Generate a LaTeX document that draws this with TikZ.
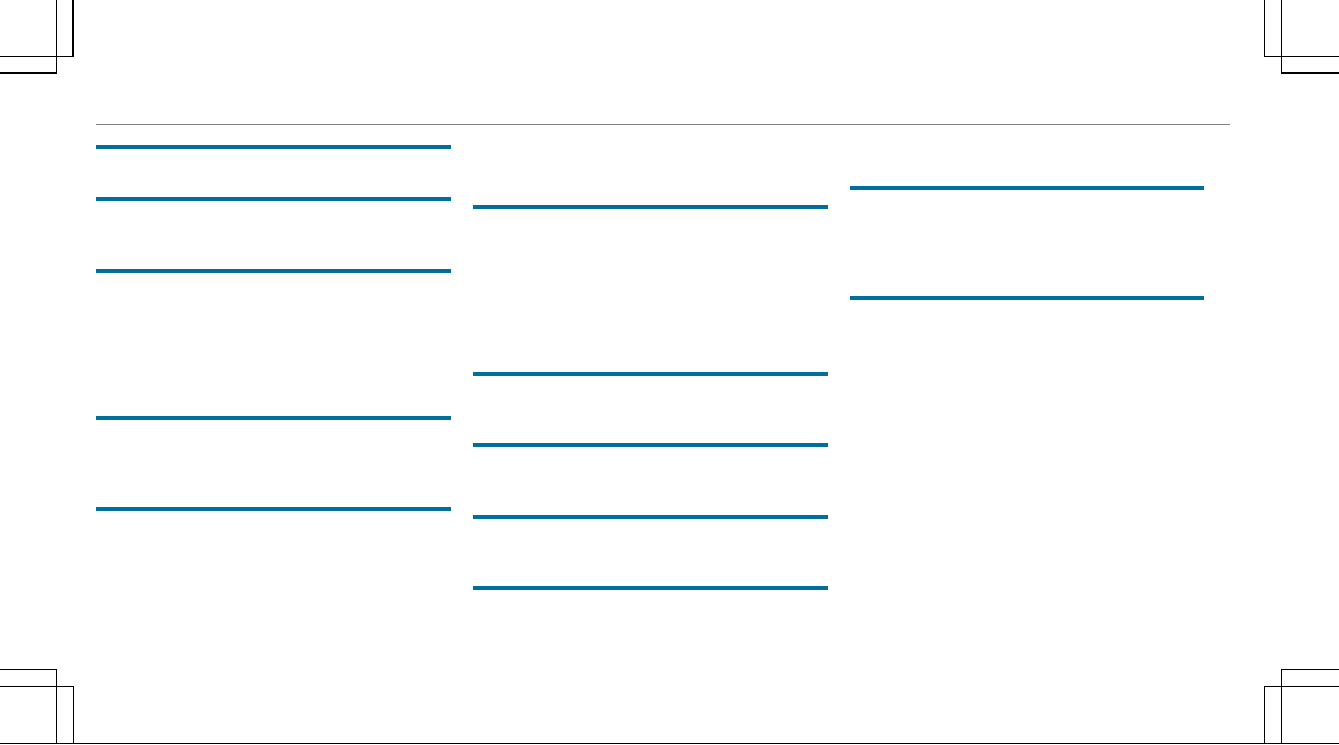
\documentclass[tikz,border=0pt]{standalone}
\definecolor{rulblue}{RGB}{0,111,158}
\definecolor{headgray}{RGB}{128,128,128}
\tikzset{
  cropmark/.style={draw=black,line width=0.6pt},
  headrule/.style={draw=headgray,line width=0.7pt},
  secrule/.style={draw=rulblue,line width=2.3pt}
}
\begin{document}
\begin{tikzpicture}[x=0.02cm,y=-0.02cm]
  \useasboundingbox (0,0) rectangle (1339,744);
  % crop marks
  \draw[cropmark] (73,0) -- (73,56.5) -- (0,56.5);
  \draw[cropmark] (56.5,0) -- (56.5,73) -- (0,73);
  \draw[cropmark] (1264.5,0) -- (1264.5,56.5) -- (1339,56.5);
  \draw[cropmark] (1281.5,0) -- (1281.5,73) -- (1339,73);
  \draw[cropmark] (0,669.3) -- (56.7,669.3) -- (56.7,744);
  \draw[cropmark] (0,686.3) -- (73.3,686.3) -- (73.3,744);
  \draw[cropmark] (1339,669.3) -- (1281.3,669.3) -- (1281.3,744);
  \draw[cropmark] (1339,686.3) -- (1264.3,686.3) -- (1264.3,744);
  \draw[cropmark] (0,743.3) -- (1339,743.3);
  % header
  \draw[headrule] (96,124.3) -- (1230,124.3);
  % left column
  \draw[secrule] (96,146.7) -- (450.7,146.7);
  \draw[secrule] (96,199.3) -- (450.7,199.3);
  \draw[secrule] (96,270.7) -- (450.7,270.7);
  \draw[secrule] (96,418.3) -- (450.7,418.3);
  \draw[secrule] (96,509) -- (450.7,509);
  % middle column
  \draw[secrule] (473.3,207.3) -- (827.7,207.3);
  \draw[secrule] (473.3,374) -- (827.7,374);
  \draw[secrule] (473.3,445.3) -- (827.7,445.3);
  \draw[secrule] (473.3,516.7) -- (827.7,516.7);
  \draw[secrule] (473.3,588.3) -- (827.7,588.3);
  % right column
  \draw[secrule] (850,188.3) -- (1204.3,188.3);
  \draw[secrule] (850,297.7) -- (1204.3,297.7);
\end{tikzpicture}
\end{document}
